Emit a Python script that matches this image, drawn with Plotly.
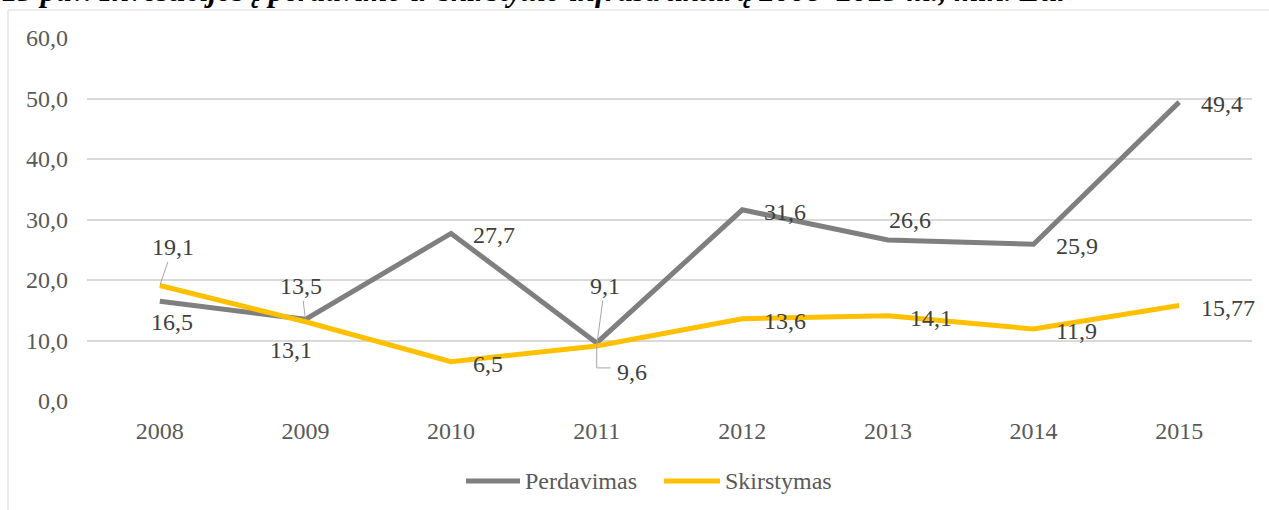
import plotly.graph_objects as go

# ---------------- data ----------------
years = ['2008', '2009', '2010', '2011', '2012', '2013', '2014', '2015']
perdavimas = [16.5, 13.5, 27.7, 9.6, 31.6, 26.6, 25.9, 49.4]
skirstymas = [19.1, 13.1, 6.5, 9.1, 13.6, 14.1, 11.9, 15.77]
perdavimas_labels = ['16,5', '13,5', '27,7', '9,6', '31,6', '26,6', '25,9', '49,4']
skirstymas_labels = ['19,1', '13,1', '6,5', '9,1', '13,6', '14,1', '11,9', '15,77']
y_tick_values = [0, 10, 20, 30, 40, 50, 60]
y_tick_labels = ['0,0', '10,0', '20,0', '30,0', '40,0', '50,0', '60,0']
series_names = ['Perdavimas', 'Skirstymas']
title_text = '15 pav. Investicijos į perdavimo ir skirstymo infrastruktūrą 2008–2015 m., mln. Eur'

# ---------------- styles ----------------
FONT = 'Liberation Serif'
GRAY = '#7F7F7F'
GOLD = '#FFC000'
LABEL_COLOR = '#404040'
TICK_COLOR = '#595959'
GRID = '#D9D9D9'
LEADER = '#A6A6A6'

W, H = 1269, 510
M = dict(l=87, r=17, t=38, b=109)
PLOT_W = W - M['l'] - M['r']
PLOT_H = H - M['t'] - M['b']
Y_RANGE = [0, 60]
PX_PER_UNIT = PLOT_H / (Y_RANGE[1] - Y_RANGE[0])
PX_PER_CAT = PLOT_W / len(years)

# label placement per point: ('right',) or (kind, dx, dy) with dx/dy in px (dy down)
perd_place = [('offset', 12, 21), ('leader', -4, -33), ('right',), ('elbow', 35, 29),
              ('right',), ('offset', 22, -20), ('right',), ('right',)]
skir_place = [('leader', 13, -38), ('offset', -14, 28), ('right',), ('leader', 8, -60),
              ('right',), ('right',), ('right',), ('right',)]

fig = go.Figure()
fig.add_trace(go.Scatter(x=years, y=perdavimas, name=series_names[0], mode='lines',
                         line=dict(color=GRAY, width=5), showlegend=False,
                         hoverinfo='skip'))
fig.add_trace(go.Scatter(x=years, y=skirstymas, name=series_names[1], mode='lines',
                         line=dict(color=GOLD, width=5), showlegend=False,
                         hoverinfo='skip'))

annotations = []
shapes = []
lab_font = dict(family=FONT, size=24, color=LABEL_COLOR)

for vals, labs, places in [(perdavimas, perdavimas_labels, perd_place),
                           (skirstymas, skirstymas_labels, skir_place)]:
    for i, (v, t, p) in enumerate(zip(vals, labs, places)):
        # category axis: annotations are positioned by category index
        if p[0] == 'right':
            annotations.append(dict(x=i, y=v, xref='x', yref='y', text=t, showarrow=False,
                                    xanchor='left', yanchor='middle', xshift=20, yshift=-2,
                                    font=lab_font))
        elif p[0] in ('offset', 'elbow'):
            annotations.append(dict(x=i, y=v, xref='x', yref='y', text=t, showarrow=False,
                                    xanchor='center', yanchor='middle', xshift=p[1], yshift=-p[2],
                                    font=lab_font))
            if p[0] == 'elbow':
                y_top = v - 3 / PX_PER_UNIT
                y_bot = v - 25 / PX_PER_UNIT
                x_end = i + 14 / PX_PER_CAT
                shapes.append(dict(type='line', xref='x', yref='y', x0=i, x1=i,
                                   y0=y_top, y1=y_bot, line=dict(color=LEADER, width=1)))
                shapes.append(dict(type='line', xref='x', yref='y', x0=i, x1=x_end,
                                   y0=y_bot, y1=y_bot, line=dict(color=LEADER, width=1)))
        elif p[0] == 'leader':
            annotations.append(dict(x=i, y=v, xref='x', yref='y', text=t, showarrow=True,
                                    ax=p[1], ay=p[2],
                                    arrowhead=0, arrowwidth=1, arrowcolor=LEADER,
                                    standoff=1, font=lab_font))

# title (partly cut off at the top, as in the reference)
annotations.append(dict(x=-0.0747, y=1.077, xref='paper', yref='paper',
                        text='<b><i>' + title_text + '</i></b>',
                        showarrow=False, xanchor='left', yanchor='bottom',
                        font=dict(family=FONT, size=31, color='#000000')))

# custom legend
leg_y = -0.2204
for (x0, x1, xt), name, col in [((0.3253, 0.3717, 0.3742), series_names[0], GRAY),
                                ((0.4953, 0.5433, 0.5459), series_names[1], GOLD)]:
    shapes.append(dict(type='line', xref='paper', yref='paper', x0=x0, x1=x1, y0=leg_y, y1=leg_y,
                       line=dict(color=col, width=5)))
    annotations.append(dict(x=xt, y=leg_y, xref='paper', yref='paper', text=name, showarrow=False,
                            xanchor='left', yanchor='middle',
                            font=dict(family=FONT, size=24, color=TICK_COLOR)))

# chart frame
shapes.append(dict(type='rect', xref='paper', yref='paper', x0=-0.0678, x1=1.2, y0=1.0771, y1=-0.6,
                   line=dict(color=GRID, width=1), fillcolor='rgba(0,0,0,0)', layer='below'))

fig.update_layout(
    width=W, height=H,
    margin=M,
    paper_bgcolor='white', plot_bgcolor='white',
    font=dict(family=FONT, size=24, color=TICK_COLOR),
    xaxis=dict(type='category', range=[-0.5, 7.5], autorange=False, showgrid=False,
               zeroline=False, showline=False, ticks='',
               tickfont=dict(family=FONT, size=24, color=TICK_COLOR), ticklabelstandoff=13),
    yaxis=dict(range=Y_RANGE, autorange=False, tickvals=y_tick_values, ticktext=y_tick_labels,
               showgrid=True, gridcolor=GRID, gridwidth=1.5, zeroline=False, showline=False,
               ticks='', tickfont=dict(family=FONT, size=24, color=TICK_COLOR),
               ticklabelstandoff=18),
    annotations=annotations,
    shapes=shapes,
    showlegend=False,
)

fig.write_html('out.html', config={'displayModeBar': False},
               post_script="document.body.style.margin='0';document.body.style.overflow='hidden';")
